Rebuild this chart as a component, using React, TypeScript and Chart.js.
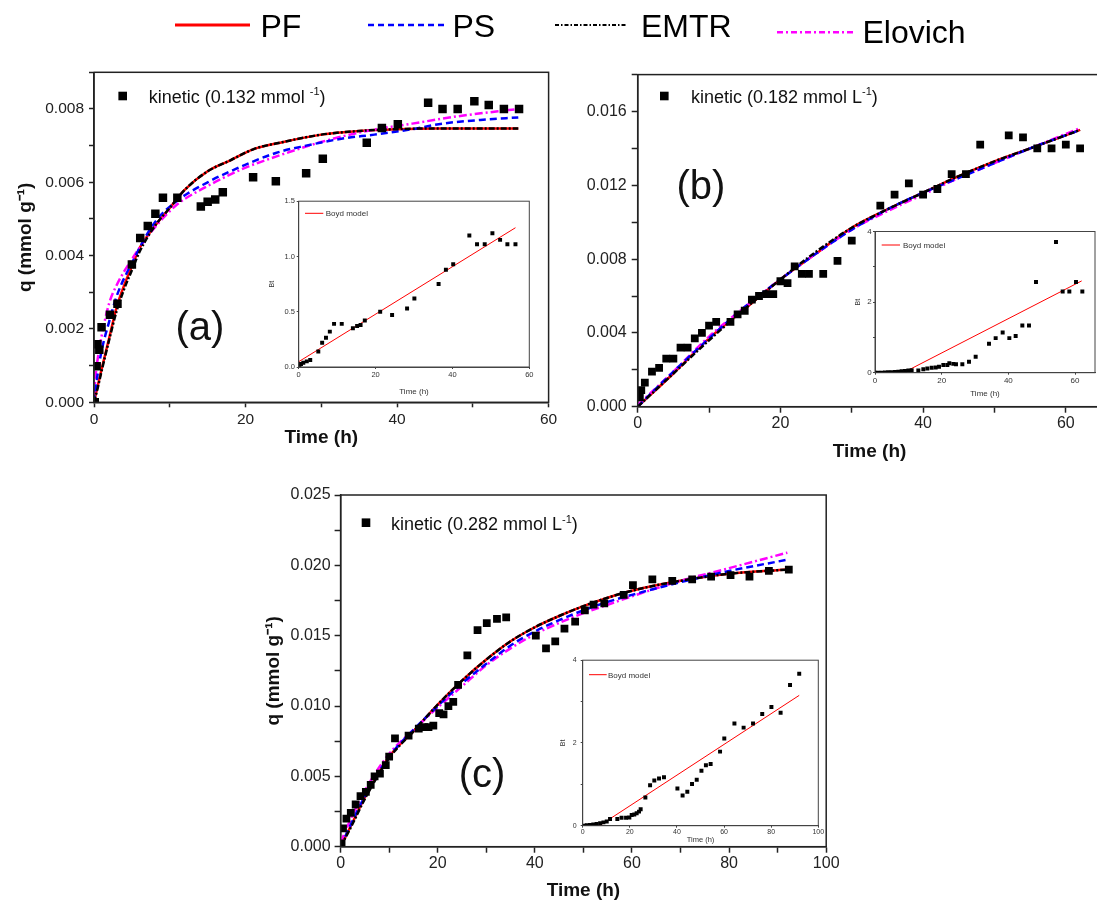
import React, { useEffect, useRef } from "react";
import { Chart, registerables } from "chart.js";
Chart.register(...registerables);

const FONT = "'Liberation Sans', Arial, Helvetica, sans-serif";

// ---------------- Panel (a) : kinetic 0.132 ----------------
const A_T = [0.1, 0.35, 0.45, 0.7, 1, 2.1, 3.1, 5, 6.1, 7.1, 8.1, 9.1, 11, 14.1, 15, 16, 17, 21, 24, 28, 30.2, 36, 38, 40.1, 44.1, 46, 48, 50.2, 52.1, 54.1, 56.1];
const A_Q = [0.0, 0.00098, 0.00158, 0.00143, 0.00205, 0.00239, 0.00269, 0.00376, 0.00448, 0.00481, 0.00514, 0.00558, 0.00558, 0.00534, 0.00547, 0.00553, 0.00573, 0.00614, 0.00603, 0.00625, 0.00664, 0.00708, 0.00748, 0.00758, 0.00817, 0.008, 0.008, 0.00821, 0.00811, 0.008, 0.008];
const A_FIT_T = [0, 0.5, 1, 2, 3, 4, 5, 6, 8, 10, 12, 15, 18, 21, 25, 30, 35, 40, 45, 50, 56];
const A_PF = [0, 0.00045, 0.0009, 0.00175, 0.0026, 0.0032, 0.0037, 0.0042, 0.0048, 0.0053, 0.0058, 0.0063, 0.0066, 0.0069, 0.0071, 0.0073, 0.0074, 0.00745, 0.00747, 0.00747, 0.00747];
const A_EMTR = [0, 0.0004, 0.00085, 0.0017, 0.0025, 0.0031, 0.0036, 0.0041, 0.0048, 0.0053, 0.0058, 0.0063, 0.0066, 0.0069, 0.0071, 0.0073, 0.0074, 0.00745, 0.00747, 0.00747, 0.00747];
const A_PS_T = [0, 0.5, 1, 2, 3, 5, 8, 11, 15, 18, 24, 28, 33, 37, 42, 46, 51, 56];
const A_PS = [0, 0.0008, 0.0014, 0.0022, 0.0029, 0.0038, 0.0049, 0.0055, 0.006, 0.0063, 0.0068, 0.007, 0.0072, 0.0073, 0.00745, 0.0076, 0.0077, 0.00777];
const A_EL_T = [0, 0.25, 0.5, 1, 2, 3, 5, 7, 9, 11, 15, 20, 24, 30, 36, 42, 48, 56];
const A_EL = [0.0002, 0.0008, 0.0012, 0.0018, 0.0027, 0.0032, 0.0039, 0.0045, 0.005, 0.0054, 0.0059, 0.0064, 0.0067, 0.0071, 0.0074, 0.0076, 0.0078, 0.008];
// inset (a) Boyd
const IA_T = [0.2, 0.6, 1.2, 2.1, 3, 5.1, 6.1, 7.1, 8.1, 9.2, 11.2, 14.1, 15.2, 16.1, 17.2, 21.2, 24.3, 28.2, 30.1, 36.4, 38.3, 40.2, 44.4, 46.4, 48.4, 50.4, 52.4, 54.3, 56.4];
const IA_BT = [0.01, 0.027, 0.039, 0.051, 0.063, 0.14, 0.22, 0.265, 0.32, 0.39, 0.39, 0.35, 0.37, 0.38, 0.42, 0.5, 0.47, 0.53, 0.62, 0.75, 0.88, 0.93, 1.19, 1.11, 1.11, 1.21, 1.15, 1.11, 1.11];
const IA_LINE_T = [0, 56.4];
const IA_LINE_BT = [0.048, 1.26];

// ---------------- Panel (b) : kinetic 0.182 ----------------
const B_T = [0.3, 0.5, 1, 2, 3, 4, 5, 6, 7, 8, 9, 10, 11, 13, 14, 15, 16, 17, 18, 19, 20, 21, 22, 23, 24, 26, 28, 30, 34, 36, 38, 40, 42, 44, 46, 48, 52, 54, 56, 58, 60, 62];
const B_Q = [0.0005, 0.0009, 0.0013, 0.0019, 0.0021, 0.0026, 0.0026, 0.0032, 0.0032, 0.0037, 0.004, 0.0044, 0.0046, 0.0046, 0.005, 0.0052, 0.0058, 0.006, 0.0061, 0.0061, 0.0068, 0.0067, 0.0076, 0.0072, 0.0072, 0.0072, 0.0079, 0.009, 0.0109, 0.0115, 0.0121, 0.0115, 0.0118, 0.0126, 0.0126, 0.0142, 0.0147, 0.0146, 0.014, 0.014, 0.0142, 0.014];
const B_FIT_T = [0, 5, 10, 15, 20, 25, 30, 35, 40, 45, 50, 55, 62];
const B_PF = [0, 0.0018, 0.0037, 0.0053, 0.0069, 0.0083, 0.0097, 0.0107, 0.0116, 0.0125, 0.0133, 0.014, 0.015];
const B_PS = [0, 0.0019, 0.0037, 0.0054, 0.0069, 0.0083, 0.0096, 0.0107, 0.0116, 0.0124, 0.0132, 0.014, 0.015];
const B_EMTR = [0, 0.0018, 0.0036, 0.0053, 0.0069, 0.0084, 0.0097, 0.0107, 0.0116, 0.0125, 0.0133, 0.014, 0.015];
const B_EL = [0.0001, 0.0019, 0.0038, 0.0054, 0.0069, 0.0083, 0.0096, 0.0106, 0.0115, 0.0124, 0.0132, 0.014, 0.0151];
// inset (b) Boyd
const IB_T = [0, 1, 2, 3, 4, 5, 6, 7, 8, 9, 10, 11, 13, 14.5, 15.7, 17, 18.2, 19.2, 20.5, 21.7, 22.3, 23.5, 24.3, 26.2, 28.2, 30.2, 34.2, 36.2, 38.3, 40.3, 42.2, 44.2, 46.2, 48.3, 54.3, 56.3, 58.3, 60.3, 62.2];
const IB_BT = [0, 0, 0, 0.005, 0.01, 0.015, 0.02, 0.03, 0.04, 0.05, 0.06, 0.07, 0.06, 0.1, 0.12, 0.14, 0.15, 0.17, 0.22, 0.22, 0.27, 0.25, 0.24, 0.24, 0.31, 0.45, 0.82, 0.98, 1.14, 0.98, 1.04, 1.34, 1.34, 2.57, 3.7, 2.3, 2.3, 2.57, 2.3];
const IB_LINE_T = [8.5, 62];
const IB_LINE_BT = [0, 2.6];

// ---------------- Panel (c) : kinetic 0.282 ----------------
const C_T = [0.2, 0.5, 1.2, 2.1, 3.1, 4.1, 5.2, 6.2, 7, 8.1, 9.3, 10, 11.2, 14, 16.1, 17.2, 18.1, 19.1, 20.3, 21.2, 22.2, 23.2, 24.2, 26.1, 28.2, 30.1, 32.2, 34.1, 40.2, 42.3, 44.2, 46.1, 48.3, 50.3, 52.1, 54.3, 58.3, 60.2, 64.2, 68.3, 72.4, 76.3, 80.3, 84.2, 88.2, 92.3];
const C_Q = [0.00024, 0.0013, 0.002, 0.0024, 0.003, 0.0036, 0.0039, 0.0044, 0.005, 0.0052, 0.0058, 0.0064, 0.0077, 0.0079, 0.0084, 0.0085, 0.0085, 0.0086, 0.0095, 0.0094, 0.01, 0.0103, 0.0115, 0.0136, 0.0154, 0.0159, 0.0162, 0.0163, 0.015, 0.0141, 0.0146, 0.0155, 0.016, 0.0168, 0.0172, 0.0173, 0.0179, 0.0186, 0.019, 0.0189, 0.019, 0.0192, 0.0193, 0.0192, 0.0196, 0.0197];
const C_FIT_T = [0, 2, 5, 10, 15, 20, 25, 30, 35, 40, 45, 50, 55, 60, 70, 80, 92];
const C_PF = [0, 0.0014, 0.0035, 0.0064, 0.0082, 0.0101, 0.0118, 0.0133, 0.0146, 0.0156, 0.0164, 0.0171, 0.0177, 0.0182, 0.0189, 0.0194, 0.0197];
const C_EMTR = [0, 0.0013, 0.0034, 0.0063, 0.0082, 0.0101, 0.0118, 0.0133, 0.0146, 0.0156, 0.0164, 0.0171, 0.0177, 0.0182, 0.0189, 0.0194, 0.0197];
const C_PS = [0, 0.0015, 0.0036, 0.0064, 0.0083, 0.01, 0.0116, 0.013, 0.0143, 0.0153, 0.0161, 0.0168, 0.0174, 0.0179, 0.0188, 0.0196, 0.0204];
const C_EL = [0.0003, 0.0019, 0.004, 0.0066, 0.0083, 0.0099, 0.0114, 0.0129, 0.0141, 0.0151, 0.0159, 0.0166, 0.0172, 0.0178, 0.0189, 0.0198, 0.0209];
// inset (c) Boyd
const IC_T = [0.7, 1.7, 3.1, 4.5, 5.9, 7.4, 8.8, 10.2, 11.6, 14.7, 16.5, 18.4, 19.8, 20.8, 21.9, 22.9, 23.9, 24.6, 26.6, 28.6, 30.4, 32.4, 34.5, 40.2, 42.4, 44.4, 46.4, 48.4, 50.4, 52.3, 54.3, 58.3, 60.1, 64.4, 68.3, 72.3, 76.2, 80.1, 84, 88, 91.9];
const IC_BT = [0, 0.01, 0.02, 0.03, 0.04, 0.06, 0.08, 0.1, 0.16, 0.16, 0.19, 0.19, 0.2, 0.26, 0.27, 0.3, 0.34, 0.4, 0.68, 0.98, 1.09, 1.14, 1.17, 0.9, 0.73, 0.82, 1.01, 1.11, 1.33, 1.46, 1.49, 1.79, 2.11, 2.47, 2.37, 2.47, 2.7, 2.87, 2.73, 3.4, 3.67];
const IC_LINE_T = [7.1, 91.9];
const IC_LINE_BT = [0, 3.15];

// ---------------- helpers ----------------
const RED = "#ff0000";
const BLUE = "#0000ff";
const BLACK = "#000000";
const MAGENTA = "#ff00ff";

const pts = (xs: number[], ys: number[]) => xs.map((x, i) => ({ x, y: ys[i] }));

const curve = (label: string, xs: number[], ys: number[], color: string, dash: number[], width: number, order: number) => ({
  label,
  data: pts(xs, ys),
  showLine: true,
  borderColor: color,
  backgroundColor: color,
  borderWidth: width,
  borderDash: dash,
  pointRadius: 0,
  cubicInterpolationMode: "monotone",
  fill: false,
  order,
});

const dots = (label: string, xs: number[], ys: number[], r: number) => ({
  label,
  data: pts(xs, ys),
  showLine: false,
  pointStyle: "rect",
  pointRadius: r,
  pointBackgroundColor: "#000",
  pointBorderColor: "#000",
  pointBorderWidth: 0,
  order: 0,
});

type Box = { cx: number; cy: number; cw: number; ch: number; L: number; R: number; T: number; B: number };

type AxisCfg = {
  min: number;
  max: number;
  step: number;
  every: number;
  dec: number;
  font: number;
  tickLen: number;
  tickPad: number;
  title: string;
  titleSize: number;
  titleWeight: string;
  titleCenter: number; // absolute px (x for y-axis, y for x-axis)
  titleColor: string;
};

type PanelCfg = {
  datasets: any[];
  x: AxisCfg;
  y: AxisCfg;
  axisColor: string;
  axisWidth: number;
  textColor: string;
};

function buildConfig(box: Box, p: PanelCfg): any {
  const yW = box.L - box.cx;
  const xH = box.cy + box.ch - box.B;
  const yLh = p.y.titleSize * 1.2;
  const xLh = p.x.titleSize * 1.2;
  const yTitlePad = Math.max(0, p.y.titleCenter - box.cx - yLh / 2);
  const xTitlePad = Math.max(0, box.cy + box.ch - p.x.titleCenter - xLh / 2);

  const scale = (axis: "x" | "y", c: AxisCfg, titlePad: number) => ({
    type: "linear",
    position: axis === "x" ? "bottom" : "left",
    min: c.min,
    max: c.max,
    afterFit: (s: any) => {
      if (axis === "x") s.height = xH;
      else s.width = yW;
    },
    border: { display: true, color: p.axisColor, width: p.axisWidth },
    grid: {
      display: true,
      drawOnChartArea: false,
      drawTicks: true,
      tickLength: c.tickLen,
      color: p.axisColor,
      tickColor: p.axisColor,
      tickWidth: p.axisWidth,
    },
    ticks: {
      stepSize: c.step,
      autoSkip: false,
      maxRotation: 0,
      minRotation: 0,
      includeBounds: false,
      padding: c.tickPad,
      color: p.textColor,
      font: { family: FONT, size: c.font },
      callback: (v: number) => {
        const r = v / c.every;
        return Math.abs(r - Math.round(r)) < 1e-6 ? Number(v).toFixed(c.dec) : "";
      },
    },
    title: {
      display: true,
      text: c.title,
      color: c.titleColor,
      font: { family: FONT, size: c.titleSize, weight: c.titleWeight },
      padding: axis === "x" ? { top: 0, bottom: titlePad } : { top: titlePad, bottom: 0 },
    },
  });

  const framePlugin = {
    id: "frame",
    afterDraw(chart: any) {
      const { ctx, chartArea: a } = chart;
      ctx.save();
      ctx.strokeStyle = p.axisColor;
      ctx.lineWidth = p.axisWidth;
      ctx.strokeRect(a.left, a.top, a.right - a.left, a.bottom - a.top);
      ctx.restore();
    },
  };

  return {
    type: "scatter",
    data: { datasets: p.datasets },
    options: {
      responsive: false,
      maintainAspectRatio: false,
      animation: false,
      devicePixelRatio: 1,
      events: [],
      layout: { padding: { left: 0, top: box.T - box.cy, right: box.cx + box.cw - box.R, bottom: 0 } },
      plugins: { legend: { display: false }, tooltip: { enabled: false } },
      scales: { x: scale("x", p.x, xTitlePad), y: scale("y", p.y, yTitlePad) },
    },
    plugins: [framePlugin],
  };
}

function ChartBox({ box, cfg }: { box: Box; cfg: PanelCfg }) {
  const ref = useRef<HTMLCanvasElement>(null);
  useEffect(() => {
    const chart = new Chart(ref.current as HTMLCanvasElement, buildConfig(box, cfg));
    return () => chart.destroy();
  }, []);
  return (
    <canvas
      ref={ref}
      width={box.cw}
      height={box.ch}
      style={{ position: "absolute", left: box.cx, top: box.cy, width: box.cw, height: box.ch }}
    />
  );
}

const mainAxis = (o: Partial<AxisCfg>): AxisCfg => ({
  min: 0, max: 1, step: 1, every: 1, dec: 0, font: 16, tickLen: 6, tickPad: 3,
  title: "", titleSize: 19, titleWeight: "bold", titleCenter: 0, titleColor: "#111",
  ...o,
});

const fitSets = (t: number[][], ys: number[][], w: number) => [
  curve("EMTR", t[3], ys[3], BLACK, [6, 2, 2, 2], w, 1),
  curve("PS", t[1], ys[1], BLUE, [7, 4], w, 2),
  curve("Elovich", t[2], ys[2], MAGENTA, [8, 3, 2, 3], w, 3),
  curve("PF", t[0], ys[0], RED, [], w, 4),
];

// ---------------- panel configs ----------------
const BOX_A: Box = { cx: 4, cy: 58, cw: 560, ch: 400, L: 94, R: 548.6, T: 68.3, B: 402.3 };
const CFG_A: PanelCfg = {
  datasets: [
    dots("kinetic (0.132 mmol -1)", A_T, A_Q, 6),
    ...fitSets([A_FIT_T, A_PS_T, A_EL_T, A_FIT_T], [A_PF, A_PS, A_EL, A_EMTR], 2.5),
  ],
  x: mainAxis({ min: 0, max: 60, step: 10, every: 20, dec: 0, font: 15.5, tickLen: 5, tickPad: 3.4, title: "Time (h)", titleCenter: 438 }),
  y: mainAxis({ min: 0, max: 0.009, step: 0.001, every: 0.002, dec: 3, font: 15.5, tickLen: 5, tickPad: 5, title: "q (mmol g⁻¹)", titleCenter: 26 }),
  axisColor: "#222",
  axisWidth: 1.5,
  textColor: "#222",
};

const BOX_B: Box = { cx: 575, cy: 60, cw: 540, ch: 410, L: 637.7, R: 1101.5, T: 72.7, B: 406.7 };
const CFG_B: PanelCfg = {
  datasets: [
    dots("kinetic (0.182 mmol L-1)", B_T, B_Q, 5.5),
    ...fitSets([B_FIT_T, B_FIT_T, B_FIT_T, B_FIT_T], [B_PF, B_PS, B_EL, B_EMTR], 2.5),
  ],
  x: mainAxis({ min: 0, max: 65, step: 10, every: 20, dec: 0, font: 16, tickLen: 6, tickPad: 1, title: "Time (h)", titleCenter: 451.7 }),
  y: mainAxis({ min: 0, max: 0.018, step: 0.002, every: 0.004, dec: 3, font: 16, tickLen: 6, tickPad: 5, title: "", titleCenter: 0 }),
  axisColor: "#222",
  axisWidth: 1.5,
  textColor: "#222",
};

const BOX_C: Box = { cx: 262, cy: 480, cw: 580, ch: 425, L: 340.6, R: 826.2, T: 495, B: 846.7 };
const CFG_C: PanelCfg = {
  datasets: [
    dots("kinetic (0.282 mmol L-1)", C_T, C_Q, 5.5),
    ...fitSets([C_FIT_T, C_FIT_T, C_FIT_T, C_FIT_T], [C_PF, C_PS, C_EL, C_EMTR], 2.5),
  ],
  x: mainAxis({ min: 0, max: 100, step: 10, every: 20, dec: 0, font: 16, tickLen: 6, tickPad: 1.7, title: "Time (h)", titleCenter: 891 }),
  y: mainAxis({ min: 0, max: 0.025, step: 0.0025, every: 0.005, dec: 3, font: 16, tickLen: 6, tickPad: 4, title: "q (mmol g⁻¹)", titleCenter: 273 }),
  axisColor: "#222",
  axisWidth: 1.5,
  textColor: "#222",
};

const insetAxis = (o: Partial<AxisCfg>): AxisCfg => ({
  min: 0, max: 1, step: 1, every: 1, dec: 0, font: 7.5, tickLen: 2, tickPad: 1.5,
  title: "", titleSize: 8, titleWeight: "normal", titleCenter: 0, titleColor: "#333",
  ...o,
});

const BOX_IA: Box = { cx: 262, cy: 195, cw: 275, ch: 205, L: 298.7, R: 529.3, T: 201, B: 367 };
const CFG_IA: PanelCfg = {
  datasets: [dots("Bt", IA_T, IA_BT, 2.8), curve("Boyd model", IA_LINE_T, IA_LINE_BT, RED, [], 1, 1)],
  x: insetAxis({ min: 0, max: 60, step: 20, every: 20, dec: 0, font: 7.5, tickPad: 1.5, title: "Time (h)", titleSize: 8, titleCenter: 392 }),
  y: insetAxis({ min: 0, max: 1.5, step: 0.5, every: 0.5, dec: 1, font: 7.5, tickPad: 1.7, title: "Bt", titleSize: 7, titleCenter: 272 }),
  axisColor: "#444",
  axisWidth: 1,
  textColor: "#333",
};

const BOX_IB: Box = { cx: 845, cy: 225, cw: 260, ch: 175, L: 875, R: 1095, T: 231.5, B: 372.7 };
const CFG_IB: PanelCfg = {
  datasets: [dots("Bt", IB_T, IB_BT, 2.8), curve("Boyd model", IB_LINE_T, IB_LINE_BT, RED, [], 1, 1)],
  x: insetAxis({ min: 0, max: 66, step: 20, every: 20, dec: 0, font: 8, tickPad: 1, title: "Time (h)", titleSize: 8, titleCenter: 394 }),
  y: insetAxis({ min: 0, max: 4, step: 1, every: 2, dec: 0, font: 8, tickPad: 1.3, title: "Bt", titleSize: 7, titleCenter: 858 }),
  axisColor: "#444",
  axisWidth: 1,
  textColor: "#333",
};

const BOX_IC: Box = { cx: 550, cy: 652, cw: 280, ch: 195, L: 582.7, R: 818.3, T: 660, B: 825.7 };
const CFG_IC: PanelCfg = {
  datasets: [dots("Bt", IC_T, IC_BT, 2.8), curve("Boyd model", IC_LINE_T, IC_LINE_BT, RED, [], 1, 1)],
  x: insetAxis({ min: 0, max: 100, step: 20, every: 20, dec: 0, font: 7, tickPad: 0, title: "Time (h)", titleSize: 7.5, titleCenter: 840 }),
  y: insetAxis({ min: 0, max: 4, step: 1, every: 2, dec: 0, font: 7, tickPad: 4, title: "Bt", titleSize: 7, titleCenter: 563 }),
  axisColor: "#444",
  axisWidth: 1,
  textColor: "#333",
};

// ---------------- overlay text (legend, panel labels) ----------------
const LEGEND_ITEMS = [
  { name: "PF", color: RED, dash: "", x1: 175, x2: 250, ly: 25, tx: 260.5, ty: 36.7, w: 3 },
  { name: "PS", color: BLUE, dash: "6 4", x1: 368, x2: 446, ly: 25, tx: 452.5, ty: 36.7, w: 2.5 },
  { name: "EMTR", color: BLACK, dash: "4 2 1.5 2", x1: 555, x2: 627, ly: 25, tx: 641, ty: 37.3, w: 2 },
  { name: "Elovich", color: MAGENTA, dash: "6 3 2 3", x1: 777, x2: 854, ly: 32.3, tx: 862.5, ty: 43.3, w: 2.5 },
];

const KINETIC = [
  { conc: "0.132", unit: "mmol ", sq: [122.7, 96], tx: 148.7, ty: 102.5 },
  { conc: "0.182", unit: "mmol L", sq: [664.3, 96], tx: 691, ty: 102.7 },
  { conc: "0.282", unit: "mmol L", sq: [366, 522.7], tx: 391, ty: 530 },
];

const PANEL_LABELS = [
  { text: "(a)", x: 200, y: 339.5 },
  { text: "(b)", x: 701, y: 199 },
  { text: "(c)", x: 482, y: 787.4 },
];

const BOYD_LEGENDS = [
  { x1: 305, x2: 323.3, y: 213.3, tx: 325.7, ty: 216 },
  { x1: 881.7, x2: 900, y: 245, tx: 903, ty: 248 },
  { x1: 589, x2: 606.7, y: 674.7, tx: 608, ty: 677.5 },
];

function Overlay() {
  return (
    <svg
      width={1097}
      height={905}
      style={{ position: "absolute", left: 0, top: 0, pointerEvents: "none" }}
      fontFamily={FONT}
    >
      {LEGEND_ITEMS.map((it) => (
        <g key={it.name}>
          <line x1={it.x1} x2={it.x2} y1={it.ly} y2={it.ly} stroke={it.color} strokeWidth={it.w} strokeDasharray={it.dash || undefined} />
          <text x={it.tx} y={it.ty} fontSize={32} fill="#000">{it.name}</text>
        </g>
      ))}
      {KINETIC.map((k) => (
        <g key={k.conc}>
          <rect x={k.sq[0] - 4.3} y={k.sq[1] - 4.3} width={8.6} height={8.6} fill="#000" />
          <text x={k.tx} y={k.ty} fontSize={18} fill="#111">
            {"kinetic (" + k.conc + " " + k.unit}
            <tspan dy={-7.5} fontSize={11}>-1</tspan>
            <tspan dy={7.5}>)</tspan>
          </text>
        </g>
      ))}
      {PANEL_LABELS.map((p) => (
        <text key={p.text} x={p.x} y={p.y} fontSize={40} textAnchor="middle" fill="#111">{p.text}</text>
      ))}
      {BOYD_LEGENDS.map((b, i) => (
        <g key={i}>
          <line x1={b.x1} x2={b.x2} y1={b.y} y2={b.y} stroke={RED} strokeWidth={1} />
          <text x={b.tx} y={b.ty} fontSize={8} fill="#333">Boyd model</text>
        </g>
      ))}
    </svg>
  );
}

export default function App() {
  return (
    <div
      style={{
        position: "absolute",
        left: 0,
        top: 0,
        width: 1097,
        height: 905,
        overflow: "hidden",
        background: "#fff",
      }}
    >
      <ChartBox box={BOX_A} cfg={CFG_A} />
      <ChartBox box={BOX_B} cfg={CFG_B} />
      <ChartBox box={BOX_C} cfg={CFG_C} />
      <ChartBox box={BOX_IA} cfg={CFG_IA} />
      <ChartBox box={BOX_IB} cfg={CFG_IB} />
      <ChartBox box={BOX_IC} cfg={CFG_IC} />
      <Overlay />
    </div>
  );
}
